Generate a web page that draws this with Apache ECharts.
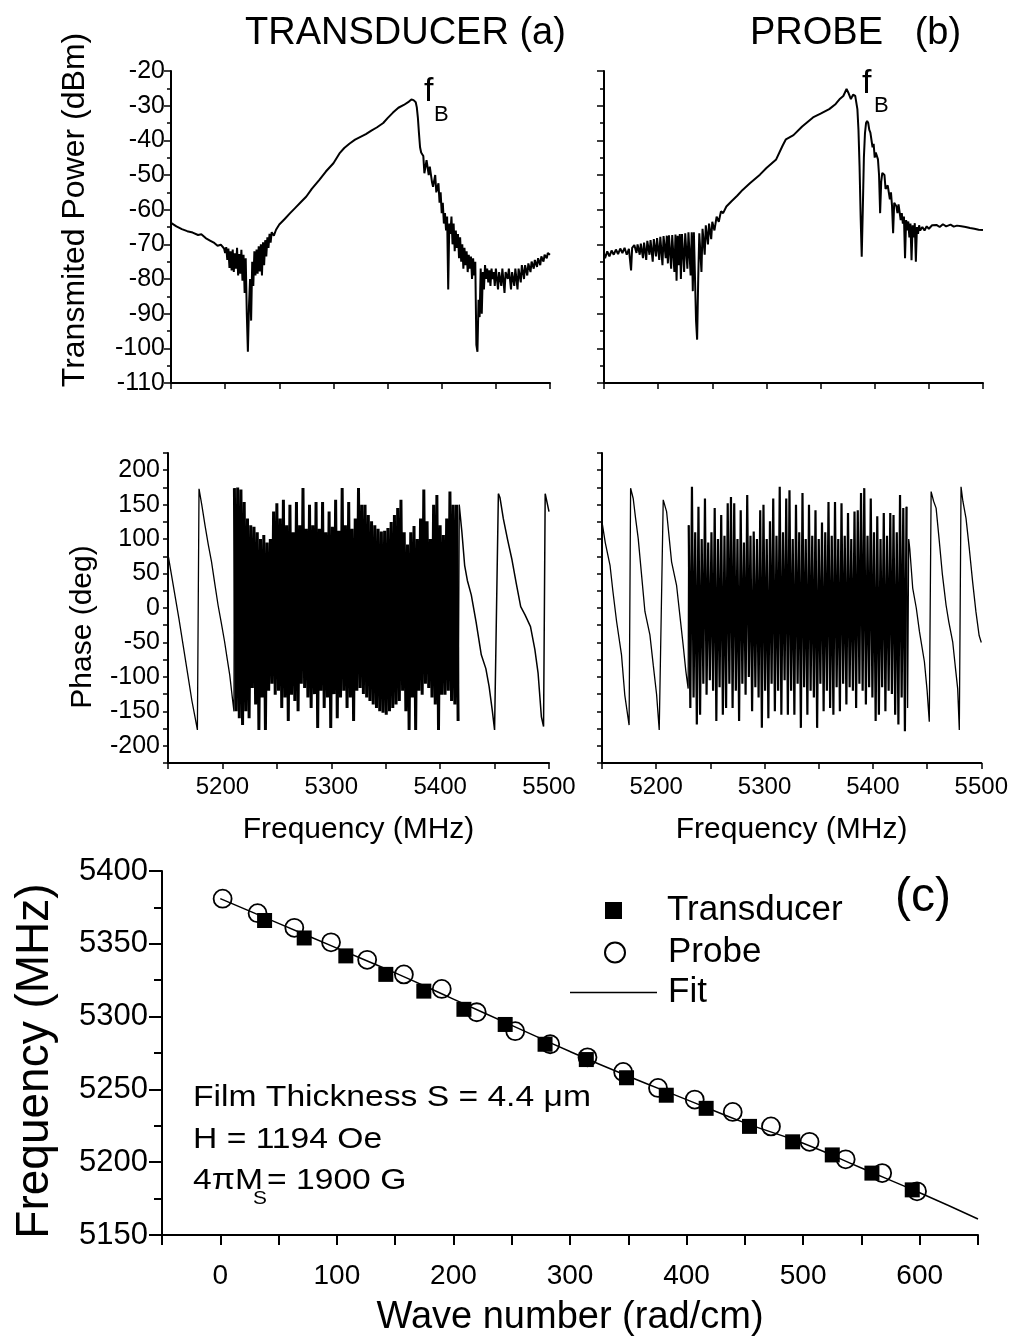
<!DOCTYPE html>
<html><head><meta charset="utf-8">
<script src="https://cdn.jsdelivr.net/npm/echarts@6/dist/echarts.min.js"></script>
<style>html,body{margin:0;padding:0;background:#fff}#c{width:1011px;height:1342px}</style>
</head><body><div id="c"></div>
<script>
const FONT = '"Liberation Sans", Arial, Helvetica, sans-serif';

// ---------- (a) Transducer: transmitted power [MHz, dBm]
const transPower = [[5150,-63.8],[5155,-64.8],[5160,-65.6],[5165,-66.2],[5170,-66.6],[5175,-67.3],[5178,-67.1],[5182,-68.2],[5186,-68.9],[5190,-69.6],[5193,-70.4],[5196,-70.1],[5199,-71.2],
[5200,-72.5],[5201,-70.8],[5202,-74.5],[5203,-71.2],[5204,-76.8],[5205,-72],[5206,-77.5],[5207,-71.5],[5208,-78],[5209,-72.6],[5210,-77],[5211,-71],[5212,-79],[5213,-72.8],[5214,-78.5],[5215,-71.6],[5216,-80.5],[5217,-73],[5218,-84],[5219,-74],[5220,-90],[5221,-101],[5222,-88],[5223,-80],[5224,-92],[5225,-75],[5226,-82],[5227,-72],[5228,-79],[5229,-71.5],[5230,-78.5],[5231,-70.6],[5232,-77.8],[5233,-70],[5234,-79],[5235,-69.4],[5236,-76],[5237,-68.8],[5238,-73.5],[5239,-68],[5240,-71],[5241,-67],[5242,-69.5],[5243,-66.5],[5245,-67.5],[5247,-65.8],
[5250,-64.3],[5255,-62.7],[5260,-61],[5265,-59.4],[5270,-57.8],[5275,-56.2],[5280,-54],[5287,-51.4],[5293,-49],[5300,-46.6],[5306,-43.6],[5310,-42.2],[5315,-40.9],[5320,-39.8],[5325,-39],[5330,-38.2],[5335,-37.2],[5340,-36.3],[5346,-35],[5350,-33.6],[5355,-32],[5360,-30.6],[5365,-29.8],[5369,-29],[5372,-28.2],[5374,-28.4],[5376,-29],[5377,-30.5],[5378,-33.5],[5379,-38],[5380,-42],[5381,-43.5],
[5383,-44.5],[5384,-49.5],[5386,-45.7],[5388,-50],[5389,-47.6],[5391,-52],[5392,-53.4],[5394,-50],[5395,-55],[5397,-52.4],[5398,-58],[5399,-55],[5400,-61],[5401,-58],[5402,-64],[5403,-61],[5404,-66],[5405,-62],[5406,-83],[5407,-64],[5408,-67],[5409,-62],[5410,-70],[5411,-64],[5412,-72],[5413,-66],[5414,-71],[5415,-67],[5416,-74],[5417,-68],[5418,-75],[5419,-70],[5420,-77],[5421,-71],[5422,-76],[5423,-72],[5424,-78],[5425,-73],[5426,-77],[5427,-73.5],[5428,-80],[5429,-74],[5430,-79],[5431,-75],[5432,-99],[5433,-101],[5434,-86],[5435,-91],[5436,-77],[5437,-90],[5438,-78],[5439,-83],[5440,-76],[5441,-80],[5442,-77],[5443,-81],[5444,-77.5],[5445,-82],[5446,-77],[5447,-80],[5448,-78],[5449,-82],[5450,-77],[5452,-83],[5453,-78],[5455,-82],[5456,-77],[5458,-84],[5459,-78],[5461,-80],[5462,-77],[5464,-83],[5465,-78],[5467,-82],[5468,-77],[5470,-83],[5471,-77],[5473,-81],[5474,-76],[5476,-80],[5477,-76],[5479,-79],[5480,-75.5],[5482,-78],[5483,-75],[5485,-77],[5486,-74.5],[5488,-76.5],[5489,-74],[5491,-76],[5492,-73.5],[5494,-75],[5495,-73],[5497,-74],[5498,-72.5],[5500,-73]];

// ---------- (b) Probe: transmitted power [MHz, dBm]
const probePower = [[5150,-72.6],[5151,-74],[5153,-72],[5155,-73.5],[5157,-71.8],[5159,-73],[5161,-71.5],[5163,-72.8],[5165,-71.2],[5167,-72.5],[5169,-71],[5171,-73],[5173,-71.3],[5175,-77.5],[5176,-71],[5178,-70.2],[5180,-72.5],[5181,-70],[5183,-73],[5184,-69.8],[5186,-74],[5187,-69.5],[5189,-74.5],[5190,-69],[5192,-73],[5193,-68.8],[5195,-75],[5196,-68.5],[5198,-73.5],[5199,-68.2],[5201,-74.5],[5202,-67.8],[5204,-76],[5205,-67.6],[5207,-74],[5208,-67.5],[5209,-75.5],[5210,-67.4],[5212,-77],[5213,-67.3],[5215,-78],[5216,-67.2],[5217,-80.5],[5218,-67.5],[5219,-76],[5220,-67],[5221,-80],[5222,-67],[5224,-78],[5225,-66.8],[5227,-77],[5228,-66.5],[5230,-79],[5231,-66.5],[5232,-83.5],[5233,-66.5],[5235,-92],[5236,-97.5],[5237,-80],[5238,-66.8],[5240,-78],[5241,-65.5],[5243,-73],[5244,-64.5],[5246,-70],[5247,-64],[5249,-68.5],[5250,-63.5],[5252,-66],[5254,-62],[5256,-63.5],[5258,-60.5],[5260,-61],[5263,-59.1],[5268,-57.5],[5273,-56],[5278,-54.3],[5285,-52.3],[5294,-49.9],[5300,-48],[5309,-45.5],[5315,-41.5],[5318,-39.7],[5325,-38.5],[5333,-36],[5343,-33.4],[5350,-32.3],[5358,-31],[5364,-29.5],[5368,-28],[5371,-27.2],[5374,-25.2],[5376,-26.5],[5378,-28.1],[5380,-26.8],[5382,-27.2],[5384,-31],[5385,-37],[5386,-47.5],[5387,-62],[5388,-73.6],[5389,-60],[5390,-45],[5391,-38],[5392,-35],[5393,-34.4],[5394,-35],[5395,-37],[5396,-37.8],[5398,-42],[5399,-41],[5400,-45],[5401,-43.5],[5403,-45.5],[5404,-50],[5405,-61],[5406,-52],[5407,-49.4],[5409,-50],[5410,-54],[5412,-53],[5414,-57],[5415,-55],[5416,-59],[5417,-66.8],[5418,-58],[5420,-59],[5421,-61],[5422,-58.5],[5424,-63],[5425,-61],[5426,-64],[5427,-62],[5428,-74],[5429,-63],[5430,-66],[5431,-63.4],[5432,-68],[5433,-64],[5434,-74.6],[5435,-64.5],[5436,-68],[5437,-63.9],[5438,-75],[5439,-65],[5440,-67],[5441,-64.5],[5442,-66],[5444,-65],[5446,-66],[5448,-64.8],[5450,-65.5],[5453,-64.5],[5457,-64.4],[5460,-65],[5463,-64.2],[5466,-64.8],[5470,-64.3],[5473,-64.9],[5476,-64.6],[5480,-64.8],[5484,-65],[5488,-65.3],[5492,-65.5],[5496,-65.8],[5500,-65.9]];

// ---------- Transducer phase [MHz, deg]
const transPhaseBefore = [[5150,78],[5153,50],[5156,22],[5160,-15],[5164,-55],[5168,-95],[5172,-135],[5175,-160],[5177,-177],[5178.5,173],[5181,150],[5184,120],[5187,92],[5190,67],[5193,35],[5196,4],[5199,-22],[5202,-49],[5204.5,-75],[5206.7,-97],[5208.8,-126],[5210.6,-150]];
const transPhaseDenseStart = 5211, transPhaseDenseStep = 1.5;
const transPhaseDense = [174,-150,175,-160,172,-170,154,-150,130,-160,120,-116,118,-140,110,-177,100,-130,106,-177,95,-120,100,-110,140,-126,152,-120,130,-145,157,-130,120,-164,150,-126,110,-135,154,-150,120,-110,174,-116,115,-130,150,-145,120,-125,154,-174,115,-120,154,-145,110,-130,140,-174,118,-125,157,-160,112,-130,174,-120,120,-145,154,-130,115,-164,130,-120,174,-116,150,-125,150,-130,135,-135,126,-140,120,-145,115,-150,111,-152,112,-155,116,-150,125,-145,135,-140,145,-135,157,-120,110,-150,92,-177,110,-130,119,-177,100,-120,130,-126,172,-110,126,-116,100,-130,150,-140,164,-177,120,-126,106,-126,130,-120,169,-135,150,-140,150,-164];
const transPhaseAfter = [[5417.5,150],[5418.5,149],[5420,110],[5422.5,62],[5425,40],[5428.6,19],[5433,-20],[5437.8,-68],[5442,-88],[5445,-114],[5448,-150],[5450,-177],[5453.5,166],[5455,160],[5458,130],[5462,99],[5466,70],[5470,35],[5474,2],[5478,-10],[5483,-27],[5487,-60],[5490,-95],[5493,-158],[5495,-172],[5496.5,166],[5500,140]];

// ---------- Probe phase [MHz, deg]
const probePhaseBefore = [[5150,125],[5153,95],[5157.4,62],[5160,25],[5163.5,-20],[5168,-68],[5171,-126],[5175,-170],[5176.4,174],[5178.8,159],[5181,130],[5183.4,101],[5186.5,48],[5189.6,-5],[5194.2,-39],[5197.3,-83],[5200.4,-126],[5202.8,-177],[5206.5,157],[5209.6,140],[5214.2,67],[5218.8,33],[5221.8,-10],[5224.9,-54],[5227.4,-92],[5229.5,-117]];
const probePhaseDenseStart = 5230, probePhaseDenseStep = 1.5;
const probePhaseDense = [120,-145,176,-130,110,-169,147,-155,100,-110,159,-126,95,-105,110,-120,145,-164,100,-115,135,-155,105,-145,152,-110,161,-145,152,-120,100,-164,142,-110,95,-126,164,-100,105,-150,111,-115,100,-130,142,-174,150,-120,100,-160,126,-110,159,-150,105,-120,176,-155,110,-105,159,-155,171,-120,100,-155,150,-110,110,-174,167,-115,100,-155,150,-120,105,-130,142,-174,100,-110,124,-150,110,-120,154,-145,105,-155,154,-115,100,-150,152,-110,105,-140,138,-115,100,-120,140,-145,142,-110,167,-120,174,-140,105,-115,159,-130,110,-164,133,-155,100,-115,138,-150,105,-120,138,-125,135,-155,110,-169,164,-130,145,-179,147];
const probePhaseAfter = [[5432,-145],[5433,100],[5434,86],[5436.7,29],[5440,0],[5442.9,-34],[5447.5,-78],[5450,-120],[5452,-165],[5453.7,169],[5456,155],[5458.3,145],[5461.3,96],[5464,50],[5467.5,4],[5470,-20],[5473.6,-49],[5476,-85],[5478.2,-117],[5479.7,-177],[5481.3,176],[5483,155],[5485.9,130],[5489,85],[5492,38],[5495,-5],[5498,-40],[5500,-50]];

// ---------- (c) dispersion
const transK = [38,72,107.7,142,174.6,209,244.4,278.6,314,348.5,382.6,416.8,454,491,525,559,593.6];
const transF = [5366,5354,5341.7,5329,5317.5,5305,5294.6,5281,5270.5,5258,5246,5237,5224.6,5214,5205,5192.5,5181];
const probeK = [2,32,63.5,95,126,157.5,190,220,253,283,315,345.6,375.5,407,439.6,472.4,505.5,536.5,567.8,597.7];
const probeF = [5381,5371,5361,5351,5339,5329,5319,5303,5290,5281,5272,5262,5251,5243,5234.5,5224.6,5214,5202,5192.5,5180];
const fitK = [0,50,100,150,200,250,300,350,400,450,500,550,600,650];
const fitF = [5381,5364,5347,5330,5312,5294,5276,5259,5243,5227,5213,5196,5179,5161];

// ---------- tick label lists
const freqTickLabels = [5200,5300,5400,5500];
const waveTickLabels = [0,100,200,300,400,500,600];

function dense(start, step, vals){ return vals.map((v,i)=>[start+i*step, v]); }
const transDense = dense(transPhaseDenseStart, transPhaseDenseStep, transPhaseDense);
const probeDense = dense(probePhaseDenseStart, probePhaseDenseStep, probePhaseDense);
const zip = (a,b)=>a.map((v,i)=>[v,b[i]]);

const BLACK = '#000';
function axLine(){ return {show:true, onZero:false, lineStyle:{color:BLACK, width:2}}; }
function xAx(grid, o){
  return Object.assign({type:'value', gridIndex:grid, min:5150, max:5500, interval:50,
    axisLine:axLine(), splitLine:{show:false},
    axisTick:{show:true, length:6, lineStyle:{color:BLACK, width:1.5}},
    axisLabel:{show:false}}, o);
}
function yAx(grid, o){
  return Object.assign({type:'value', gridIndex:grid,
    axisLine:axLine(), splitLine:{show:false},
    axisTick:{show:true, length:7, lineStyle:{color:BLACK, width:1.5}},
    axisLabel:{show:false}}, o);
}
const freqFmt = v => freqTickLabels.indexOf(v) >= 0 ? String(v) : '';
const phaseFmt = v => (v % 50 === 0 && Math.abs(v) <= 200) ? String(v) : '';
const waveFmt = v => waveTickLabels.indexOf(v) >= 0 ? String(v) : '';
const plainFmt = v => String(v);
function ln(name, xi, data, w){
  return {type:'line', name:name, xAxisIndex:xi, yAxisIndex:xi, data:data, symbol:'none', lineStyle:{color:BLACK, width:w}};
}

const chart = echarts.init(document.getElementById('c'), null, {renderer:'canvas'});
chart.setOption({
  animation:false,
  backgroundColor:'#fff',
  grid:[
    {left:171, top:71, width:379, height:312},
    {left:604, top:71, width:379, height:312},
    {left:168, top:453, width:381, height:310},
    {left:602, top:453, width:380, height:310},
    {left:162, top:871, width:816, height:364}
  ],
  xAxis:[
    xAx(0,{}),
    xAx(1,{}),
    xAx(2,{axisLabel:{show:true, formatter:freqFmt, color:BLACK, fontFamily:FONT, fontSize:24, margin:12},
      name:'Frequency (MHz)', nameLocation:'middle', nameGap:52, nameTextStyle:{color:BLACK, fontFamily:FONT, fontSize:30}}),
    xAx(3,{axisLabel:{show:true, formatter:freqFmt, color:BLACK, fontFamily:FONT, fontSize:24, margin:12},
      name:'Frequency (MHz)', nameLocation:'middle', nameGap:52, nameTextStyle:{color:BLACK, fontFamily:FONT, fontSize:30}}),
    xAx(4,{min:-50, max:650, interval:50, axisTick:{show:true, length:10, lineStyle:{color:BLACK, width:2}},
      axisLabel:{show:true, formatter:waveFmt, color:BLACK, fontFamily:FONT, fontSize:28, margin:27},
      name:'Wave number (rad/cm)', nameLocation:'middle', nameGap:64, nameTextStyle:{color:BLACK, fontFamily:FONT, fontSize:38}})
  ],
  yAxis:[
    yAx(0,{min:-110, max:-20, interval:10, minorTick:{show:true, splitNumber:2, length:4, lineStyle:{color:BLACK, width:1.5}},
      axisLabel:{show:true, formatter:plainFmt, color:BLACK, fontFamily:FONT, fontSize:25, margin:6},
      name:'Transmited Power (dBm)', nameLocation:'middle', nameGap:80, nameTextStyle:{color:BLACK, fontFamily:FONT, fontSize:32, padding:[0,0,0,34]}}),
    yAx(1,{min:-110, max:-20, interval:10, minorTick:{show:true, splitNumber:2, length:4, lineStyle:{color:BLACK, width:1.5}}}),
    yAx(2,{min:-225, max:225, interval:25, axisTick:{show:true, length:5, lineStyle:{color:BLACK, width:1.5}},
      axisLabel:{show:true, formatter:phaseFmt, color:BLACK, fontFamily:FONT, fontSize:25, margin:8},
      name:'Phase (deg)', nameLocation:'middle', nameGap:70, nameTextStyle:{color:BLACK, fontFamily:FONT, fontSize:30, padding:[0,38,0,0]}}),
    yAx(3,{min:-225, max:225, interval:25, axisTick:{show:true, length:5, lineStyle:{color:BLACK, width:1.5}}}),
    yAx(4,{min:5150, max:5400, interval:50, axisTick:{show:true, length:13, lineStyle:{color:BLACK, width:2}},
      minorTick:{show:true, splitNumber:2, length:8, lineStyle:{color:BLACK, width:2}},
      axisLabel:{show:true, formatter:plainFmt, color:BLACK, fontFamily:FONT, fontSize:31, margin:14},
      name:'Frequency (MHz)', nameLocation:'middle', nameGap:104, nameTextStyle:{color:BLACK, fontFamily:FONT, fontSize:46, padding:[0,16,0,0]}})
  ],
  legend:[
    {data:['Transducer'], left:605, top:893, padding:0, itemGap:0, selectedMode:false, icon:'rect', itemWidth:17, itemHeight:17,
      formatter:n=>'{t|'+n+'}', textStyle:{rich:{t:{fontSize:35, fontFamily:FONT, color:BLACK, padding:[0,0,0,40]}}}},
    {data:['Probe'], left:604, top:935, padding:0, itemGap:0, selectedMode:false, itemWidth:20, itemHeight:20,
      formatter:n=>'{t|'+n+'}', textStyle:{rich:{t:{fontSize:35, fontFamily:FONT, color:BLACK, padding:[0,0,0,38]}}}},
    {data:[{name:'Fit', icon:'rect'}], left:570, top:975, padding:0, itemGap:0, selectedMode:false, itemWidth:87, itemHeight:1.5,
      itemStyle:{color:BLACK},
      formatter:n=>'{t|'+n+'}', textStyle:{rich:{t:{fontSize:35, fontFamily:FONT, color:BLACK, padding:[0,0,0,6]}}}}
  ],
  series:[
    ln('Transducer power', 0, transPower, 2),
    ln('Probe power', 1, probePower, 2),
    ln('Transducer phase (below f_B)', 2, transPhaseBefore.concat([transDense[0]]), 1.3),
    ln('Transducer phase (band)', 2, transDense, 3),
    ln('Transducer phase (above)', 2, [transDense[transDense.length-1]].concat(transPhaseAfter), 1.5),
    ln('Probe phase (below)', 3, probePhaseBefore.concat([probeDense[0]]), 1.3),
    ln('Probe phase (band)', 3, probeDense, 2.2),
    ln('Probe phase (above)', 3, [probeDense[probeDense.length-1]].concat(probePhaseAfter), 1.3),
    {type:'line', name:'Fit', xAxisIndex:4, yAxisIndex:4, data:zip(fitK, fitF), symbol:'none', showSymbol:false, smooth:true, lineStyle:{color:BLACK, width:1.5}, itemStyle:{color:BLACK}},
    {type:'scatter', name:'Transducer', xAxisIndex:4, yAxisIndex:4, data:zip(transK, transF), symbol:'rect', symbolSize:15, itemStyle:{color:BLACK, opacity:1}},
    {type:'scatter', name:'Probe', xAxisIndex:4, yAxisIndex:4, data:zip(probeK, probeF), symbol:'circle', symbolSize:18, itemStyle:{color:'rgba(255,255,255,0)', borderColor:BLACK, borderWidth:1.8, opacity:1}}
  ],
  graphic:[
    {type:'text', x:245, y:34, style:{text:'TRANSDUCER (a)', fontSize:38, fontFamily:FONT, fill:BLACK, align:'left', verticalAlign:'middle'}},
    {type:'text', x:750, y:34, style:{text:'PROBE   (b)', fontSize:38, fontFamily:FONT, fill:BLACK, align:'left', verticalAlign:'middle'}},
    {type:'text', x:424, y:92, style:{text:'f', fontSize:34, fontFamily:FONT, fill:BLACK, align:'left', verticalAlign:'middle'}},
    {type:'text', x:434, y:115, style:{text:'B', fontSize:22, fontFamily:FONT, fill:BLACK, align:'left', verticalAlign:'middle'}},
    {type:'text', x:862, y:84, style:{text:'f', fontSize:34, fontFamily:FONT, fill:BLACK, align:'left', verticalAlign:'middle'}},
    {type:'text', x:874, y:106, style:{text:'B', fontSize:22, fontFamily:FONT, fill:BLACK, align:'left', verticalAlign:'middle'}},
    {type:'text', x:895, y:898, style:{text:'(c)', fontSize:48, fontFamily:FONT, fill:BLACK, align:'left', verticalAlign:'middle'}},
    {type:'text', x:193, y:1098, scaleX:1.16, style:{text:'Film Thickness S = 4.4 \u03bcm', fontSize:29, fontFamily:FONT, fill:BLACK, align:'left', verticalAlign:'middle'}},
    {type:'text', x:193, y:1140, scaleX:1.16, style:{text:'H = 1194 Oe', fontSize:29, fontFamily:FONT, fill:BLACK, align:'left', verticalAlign:'middle'}},
    {type:'text', x:193, y:1181, scaleX:1.16, style:{text:'4\u03c0M', fontSize:29, fontFamily:FONT, fill:BLACK, align:'left', verticalAlign:'middle'}},
    {type:'text', x:253, y:1199, scaleX:1.16, style:{text:'S', fontSize:18, fontFamily:FONT, fill:BLACK, align:'left', verticalAlign:'middle'}},
    {type:'text', x:267, y:1181, scaleX:1.16, style:{text:'= 1900 G', fontSize:29, fontFamily:FONT, fill:BLACK, align:'left', verticalAlign:'middle'}}
  ]
});
</script></body></html>
